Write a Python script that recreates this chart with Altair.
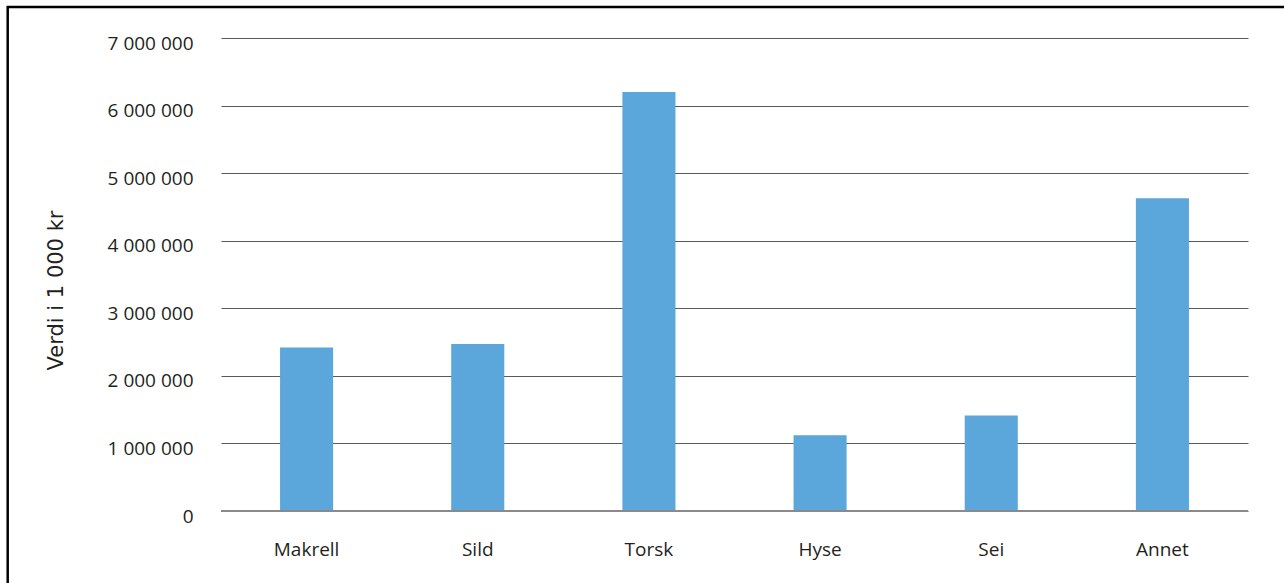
import altair as alt
import pandas as pd

categories = ["Makrell", "Sild", "Torsk", "Hyse", "Sei", "Annet"]
values = [2420000, 2470000, 6200000, 1120000, 1415000, 4630000]
y_ticks = [0, 1000000, 2000000, 3000000, 4000000, 5000000, 6000000, 7000000]

df = pd.DataFrame({"art": categories, "verdi": values})

label_expr = "replace(format(datum.value, ',d'), /,/g, ' ')"

bars = alt.Chart(df).mark_bar(color="#5BA7DB").encode(
    x=alt.X(
        "art:N",
        sort=categories,
        scale=alt.Scale(paddingInner=0.69, paddingOuter=0.345),
        axis=alt.Axis(
            title=None,
            labelAngle=0,
            labelFont="Open Sans",
            labelFontSize=19,
            labelColor="#231F20",
            labelPadding=29,
            ticks=False,
            domain=False,
        ),
    ),
    y=alt.Y(
        "verdi:Q",
        scale=alt.Scale(domain=[0, 7000000]),
        axis=alt.Axis(
            values=y_ticks,
            labelExpr=label_expr,
            labelFont="Open Sans",
            labelFontSize=19,
            labelColor="#231F20",
            labelPadding=28,
            labelOffset=5,
            ticks=False,
            domain=False,
            grid=True,
            gridColor="#5a5a5a",
            gridWidth=1.2,
            title="Verdi i 1 000 kr",
            titleFont="DejaVu Sans",
            titleFontSize=21,
            titleFontWeight="normal",
            titleColor="#231F20",
            titleAngle=270,
            titleAlign="center",
            titleBaseline="middle",
            titleX=-165,
            titleY=252,
        ),
    ),
)

zero_line = alt.Chart(pd.DataFrame({"v": [0]})).mark_rule(
    color="#8a8a8a", strokeWidth=2
).encode(y="v:Q")

frame_top = alt.Chart(pd.DataFrame({"v": [0]})).mark_rule(
    color="#000000", strokeWidth=2.5
).encode(x=alt.value(-214), x2=alt.value(1100), y=alt.value(-31))

frame_left = alt.Chart(pd.DataFrame({"v": [0]})).mark_rule(
    color="#000000", strokeWidth=2.5
).encode(x=alt.value(-213.3), y=alt.value(-32), y2=alt.value(600))

chart = (
    alt.layer(bars, zero_line, frame_top, frame_left)
    .properties(
        width=1027,
        height=473,
        autosize=alt.AutoSizeParams(type="none"),
        padding={"left": 221, "top": 38, "right": 36, "bottom": 72},
        background="#ffffff",
    )
    .configure_view(stroke=None)
)

chart.save("out.html", embed_options={"renderer": "svg", "actions": False})
